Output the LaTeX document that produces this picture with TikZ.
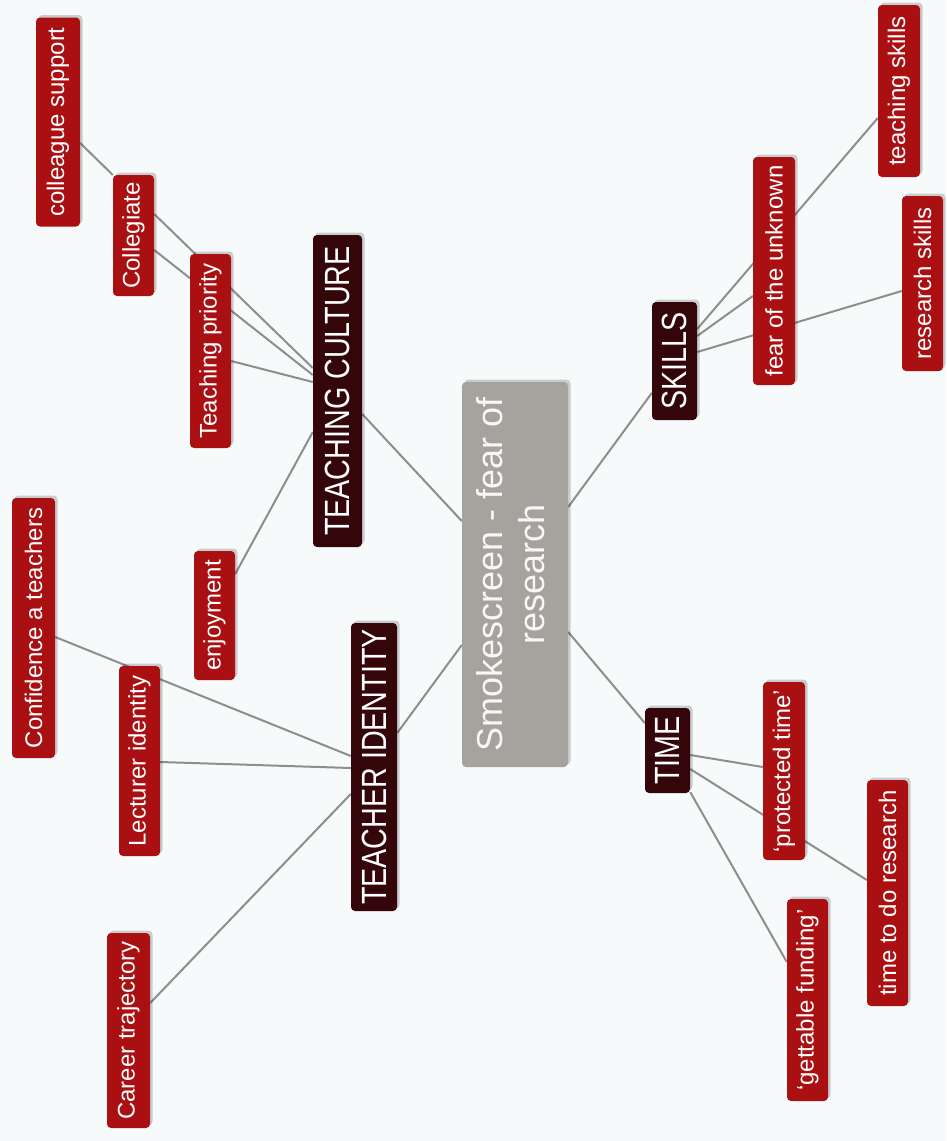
\documentclass[tikz,border=0pt]{standalone}
\usepackage{fontspec}
\setmainfont{Liberation Sans}
\newfontfamily\headfont[FakeStretch=0.82]{Liberation Sans}
\usepackage{graphicx}
\usepackage{xcolor}
\usepackage{tikz}
\usetikzlibrary{shadows}
\usetikzlibrary{backgrounds}

\definecolor{paper}{RGB}{246,250,251}
\definecolor{leafred}{RGB}{170,16,18}
\definecolor{headdark}{RGB}{52,6,10}
\definecolor{coregray}{RGB}{166,162,158}
\definecolor{linkgray}{RGB}{142,142,140}

\newcommand{\vtext}[1]{\rotatebox{90}{#1}}

\tikzset{
	mapbox/.style={inner sep=0pt, rounded corners=4pt, text=white,
		drop shadow={shadow xshift=2.5pt, shadow yshift=2.5pt, opacity=0.18, fill=black}},
	leafbox/.style={mapbox, fill=leafred, font=\fontsize{24}{28}\selectfont},
	headbox/.style={mapbox, fill=headdark, font=\headfont\fontsize{35}{40}\selectfont},
	corebox/.style={mapbox, fill=coregray, text=white!94!gray, font=\fontsize{36}{42}\selectfont},
	linkline/.style={draw=linkgray, line width=2pt},
}

\begin{document}
\begin{tikzpicture}[x=1pt, y=-1pt]
		\useasboundingbox (0,0) rectangle (946,1141);
		\begin{scope}[on background layer]
			\fill[paper] (0,0) rectangle (946,1141);
		\end{scope}
		
		\node[corebox, minimum width=106pt, minimum height=385pt] (smoke) at (515,574.5) {\vtext{\begin{tabular}{@{}c@{}}Smokescreen - fear of\\research\end{tabular}}};
		
		\node[headbox, minimum width=49pt, minimum height=312pt] (tc) at (337.5,391) {\vtext{TEACHING CULTURE}};
		\node[leafbox, minimum width=44pt, minimum height=209pt] (cs) at (58,122) {\vtext{colleague support}};
		\node[leafbox, minimum width=41pt, minimum height=121pt] (coll) at (133.5,235.5) {\vtext{Collegiate}};
		\node[leafbox, minimum width=41pt, minimum height=194pt] (tp) at (210.5,351) {\vtext{Teaching priority}};
		\node[leafbox, minimum width=41pt, minimum height=129pt] (enj) at (214.5,615.5) {\vtext{enjoyment}};
		
		\node[headbox, minimum width=46pt, minimum height=288pt] (ti) at (374,767) {\vtext{TEACHER IDENTITY}};
		\node[leafbox, minimum width=43pt, minimum height=260pt] (conf) at (33.5,628) {\vtext{Confidence a teachers}};
		\node[leafbox, minimum width=41pt, minimum height=190pt] (lect) at (139.5,761) {\vtext{Lecturer identity}};
		\node[leafbox, minimum width=43pt, minimum height=195pt] (career) at (128.5,1030.5) {\vtext{Career trajectory}};
		
		\node[headbox, minimum width=45pt, minimum height=118pt] (skills) at (674.5,361) {\vtext{SKILLS}};
		\node[leafbox, minimum width=42pt, minimum height=228pt] (fear) at (774,271) {\vtext{fear of the unknown}};
		\node[leafbox, minimum width=42pt, minimum height=172pt] (tskills) at (899,91) {\vtext{teaching skills}};
		\node[leafbox, minimum width=41pt, minimum height=175pt] (rskills) at (922.5,283.5) {\vtext{research skills}};
		
		\node[headbox, minimum width=45pt, minimum height=85pt] (time) at (667.5,750.5) {\vtext{TIME}};
		\node[leafbox, minimum width=42pt, minimum height=178pt] (prot) at (784,771) {\vtext{`protected time'}};
		\node[leafbox, minimum width=41pt, minimum height=226pt] (tdr) at (887.5,893) {\vtext{time to do research}};
		\node[leafbox, minimum width=41pt, minimum height=202pt] (fund) at (807.5,1000) {\vtext{`gettable funding'}};
		
		\begin{scope}[on background layer]
			\draw[linkline] (tc.east |- 0,414) -- (smoke.west |- 0,521);
			\draw[linkline] (cs.east |- 0,143) -- (coll.west |- 0,175);
			\draw[linkline] (coll.east |- 0,214) -- (tc.west |- 0,368);
			\draw[linkline] (coll.east |- 0,250) -- (tc.west |- 0,375);
			\draw[linkline] (tp.east |- 0,361) -- (tc.west |- 0,382);
			\draw[linkline] (tc.west |- 0,432) -- (enj.east |- 0,574);
			
			\draw[linkline] (smoke.west |- 0,645) -- (ti.east |- 0,733);
			\draw[linkline] (conf.east |- 0,637) -- (ti.west |- 0,756);
			\draw[linkline] (lect.east |- 0,762) -- (ti.west |- 0,768);
			\draw[linkline] (ti.west |- 0,794) -- (career.east |- 0,1003);
			
			\draw[linkline] (smoke.east |- 0,507) -- (skills.west |- 0,393);
			\draw[linkline] (skills.east |- 0,329) -- (tskills.west |- 0,118);
			\draw[linkline] (skills.east |- 0,336) -- (fear.west |- 0,296);
			\draw[linkline] (skills.east |- 0,352) -- (rskills.west |- 0,291);
			
			\draw[linkline] (smoke.east |- 0,632) -- (time.west |- 0,723);
			\draw[linkline] (time.east |- 0,755) -- (prot.west |- 0,767);
			\draw[linkline] (time.east |- 0,769) -- (tdr.west |- 0,880);
			\draw[linkline] (time.east |- 0,792) -- (fund.west |- 0,962);
		\end{scope}
\end{tikzpicture}
\end{document}
